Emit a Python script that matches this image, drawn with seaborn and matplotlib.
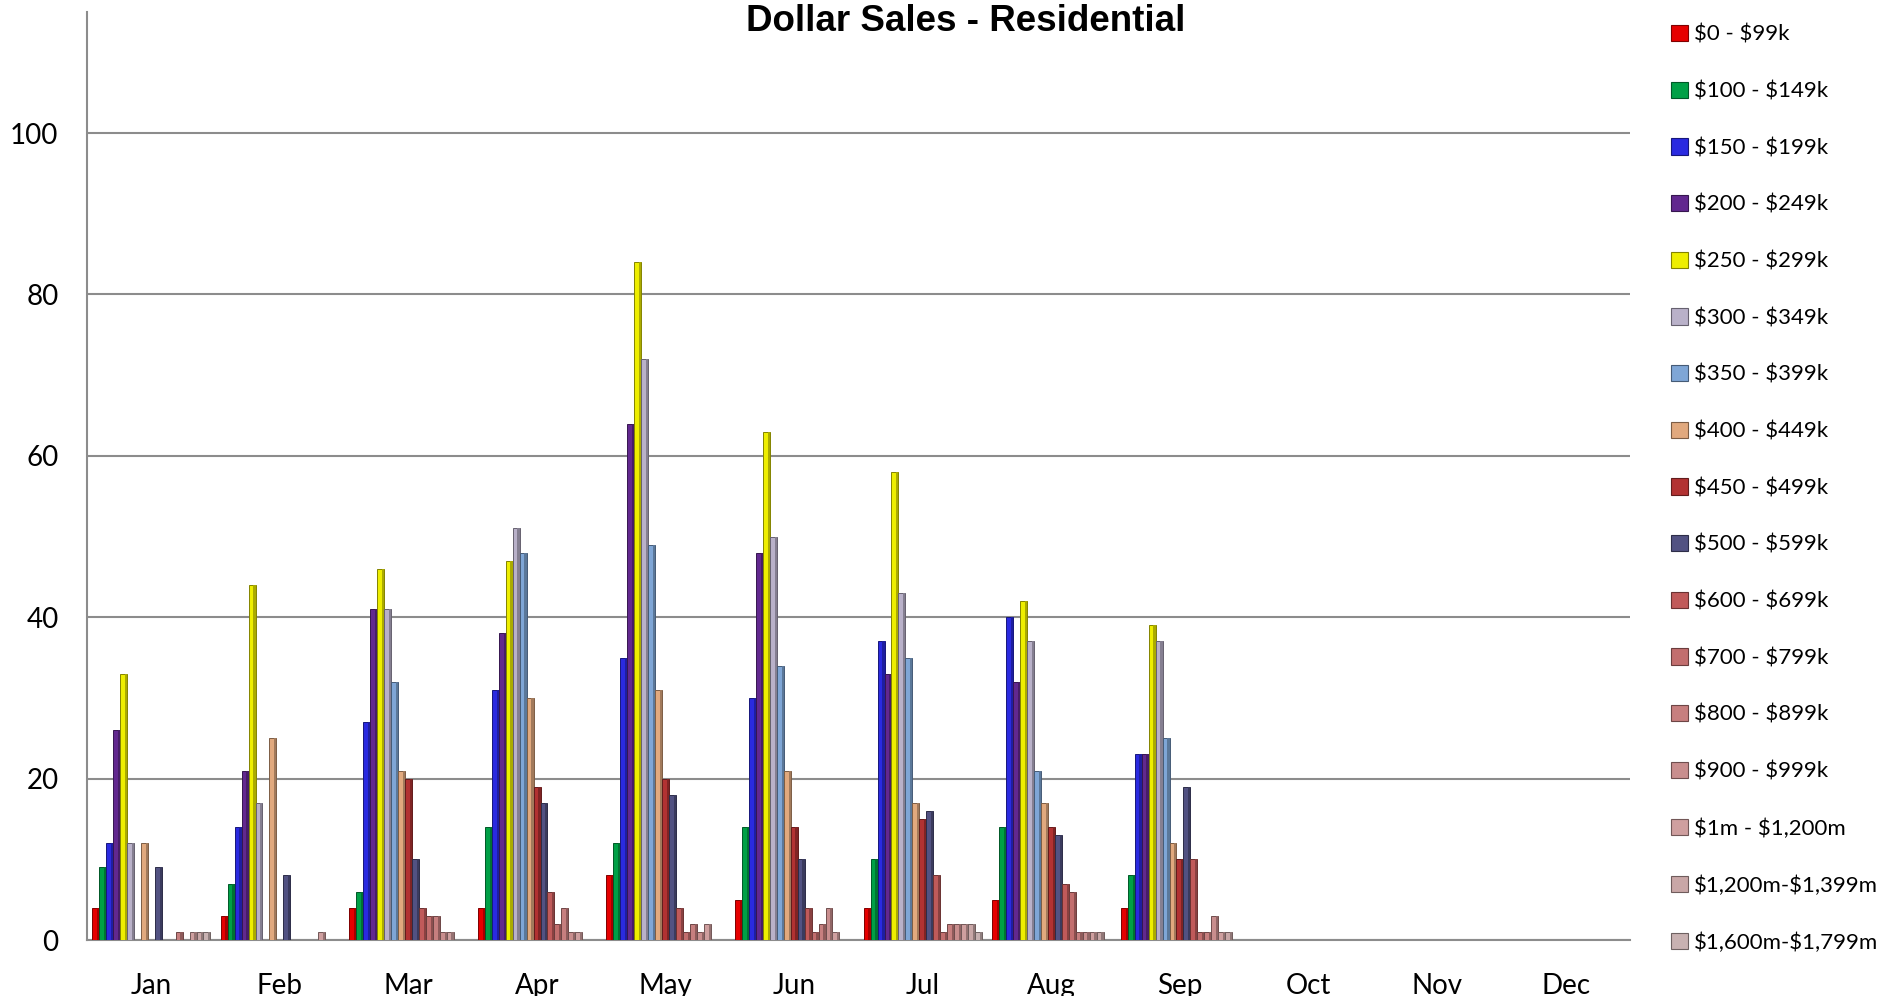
import pandas as pd
import numpy as np
import matplotlib
matplotlib.use("Agg")
import matplotlib.pyplot as plt
from matplotlib.patches import Patch, Rectangle
import seaborn as sns

# Datos
months = ["Jan", "Feb", "Mar", "Apr", "May", "Jun", "Jul", "Aug", "Sep", "Oct", "Nov", "Dec"]
ranges = ["$0 - $99k", "$100 - $149k", "$150 - $199k", "$200 - $249k", "$250 - $299k",
          "$300 - $349k", "$350 - $399k", "$400 - $449k", "$450 - $499k", "$500 - $599k",
          "$600 - $699k", "$700 - $799k", "$800 - $899k", "$900 - $999k", "$1m - $1,200m",
          "$1,200m-$1,399m", "$1,600m-$1,799m"]

jan = [4, 9, 12, 26, 33, 12, 0, 12, 0, 9, 0, 0, 1, 0, 1, 1, 1]
feb = [3, 7, 14, 21, 44, 17, 0, 25, 0, 8, 0, 0, 0, 0, 1, 0, 0]
mar = [4, 6, 27, 41, 46, 41, 32, 21, 20, 10, 4, 3, 3, 1, 1, 0, 0]
apr = [4, 14, 31, 38, 47, 51, 48, 30, 19, 17, 6, 2, 4, 1, 1, 0, 0]
may = [8, 12, 35, 64, 84, 72, 49, 31, 20, 18, 4, 1, 2, 1, 2, 0, 0]
jun = [5, 14, 30, 48, 63, 50, 34, 21, 14, 10, 4, 1, 2, 4, 1, 0, 0]
jul = [4, 10, 37, 33, 58, 43, 35, 17, 15, 16, 8, 1, 2, 2, 2, 2, 1]
aug = [5, 14, 40, 32, 42, 37, 21, 17, 14, 13, 7, 6, 1, 1, 1, 1, 0]
sep = [4, 8, 23, 23, 39, 37, 25, 12, 10, 19, 10, 1, 1, 3, 1, 1, 0]
octo = [0] * 17
nov = [0] * 17
dec = [0] * 17

colors = ["#e60000", "#00a046", "#2a2ae0", "#62288f", "#eeee00", "#b9b1c9",
          "#7fa6d6", "#e1a97e", "#b23232", "#525282", "#c05a5a", "#c26e6e",
          "#c77f7f", "#c98e8e", "#cf9f9f", "#c9a7a7", "#c8b1b1"]

monthly = [jan, feb, mar, apr, may, jun, jul, aug, sep, octo, nov, dec]
rows = []
for m, vals in zip(months, monthly):
    for r, v in zip(ranges, vals):
        rows.append({"month": m, "range": r, "sales": v})
df = pd.DataFrame(rows)

sns.set_style("white")
plt.rcParams["font.family"] = ["Lato", "DejaVu Sans"]
plt.rcParams["text.parse_math"] = False
plt.rcParams["text.color"] = "black"
plt.rcParams["xtick.labelcolor"] = "black"
plt.rcParams["ytick.labelcolor"] = "black"

fig = plt.figure(figsize=(18.95, 9.96), dpi=100)
ax = fig.add_axes([87 / 1895, 1 - 940 / 996, (1630 - 87) / 1895, (940 - 12) / 996])

sns.barplot(data=df, x="month", y="sales", hue="range", order=months, hue_order=ranges,
            palette=colors, saturation=1, width=0.92, ax=ax, zorder=3, legend=False)

# Bordes oscuros y franja sombreada tipo bisel de Excel
for bar in list(ax.patches):
    h = bar.get_height()
    if h == 0:
        bar.set_visible(False)
        continue
    fc = np.array(matplotlib.colors.to_rgb(bar.get_facecolor()))
    bar.set_edgecolor(fc * 0.55)
    bar.set_linewidth(0.7)
    w = bar.get_width()
    ax.add_patch(Rectangle((bar.get_x() + w * 0.68, 0), w * 0.32, h,
                           facecolor=fc * 0.72, edgecolor="none", zorder=3.5))

ax.set_ylim(0, 115)
ax.set_xlim(-0.5, 11.5)
ax.set_yticks([0, 20, 40, 60, 80, 100])
ax.yaxis.grid(True, color="#8c8c8c", linewidth=1.5, zorder=0)
ax.set_axisbelow(True)
for s in ["top", "right"]:
    ax.spines[s].set_visible(False)
for s in ["left", "bottom"]:
    ax.spines[s].set_color("#8c8c8c")
    ax.spines[s].set_linewidth(1.5)

ax.set_xticks(np.arange(12))
ax.set_xticks(np.arange(-0.5, 12, 1), minor=True)
ax.tick_params(axis="x", which="major", length=0, pad=24, labelsize=20)
ax.tick_params(axis="x", which="minor", length=7.5, width=1.5, color="#8c8c8c", direction="out")
ax.tick_params(axis="y", length=7.5, width=1.5, color="#8c8c8c", pad=13, labelsize=20)
ax.set_xlabel("")
ax.set_ylabel("")

fig.text(966 / 1895, 1 - 21.5 / 996, "Dollar Sales - Residential", ha="center", va="center",
         fontsize=26.5, fontweight="bold", family="Liberation Sans", color="black")

handles = [Patch(facecolor=c, edgecolor=np.array(matplotlib.colors.to_rgb(c)) * 0.55,
                 linewidth=0.8) for c in colors]
fig.legend(handles, ranges, loc="upper left", bbox_to_anchor=(1662 / 1895, 1 - 16 / 996),
           frameon=False, fontsize=16, handlelength=0.75, handleheight=0.75,
           handletextpad=0.3, labelspacing=1.65, borderaxespad=0)

fig.savefig("out.png", dpi=100)
